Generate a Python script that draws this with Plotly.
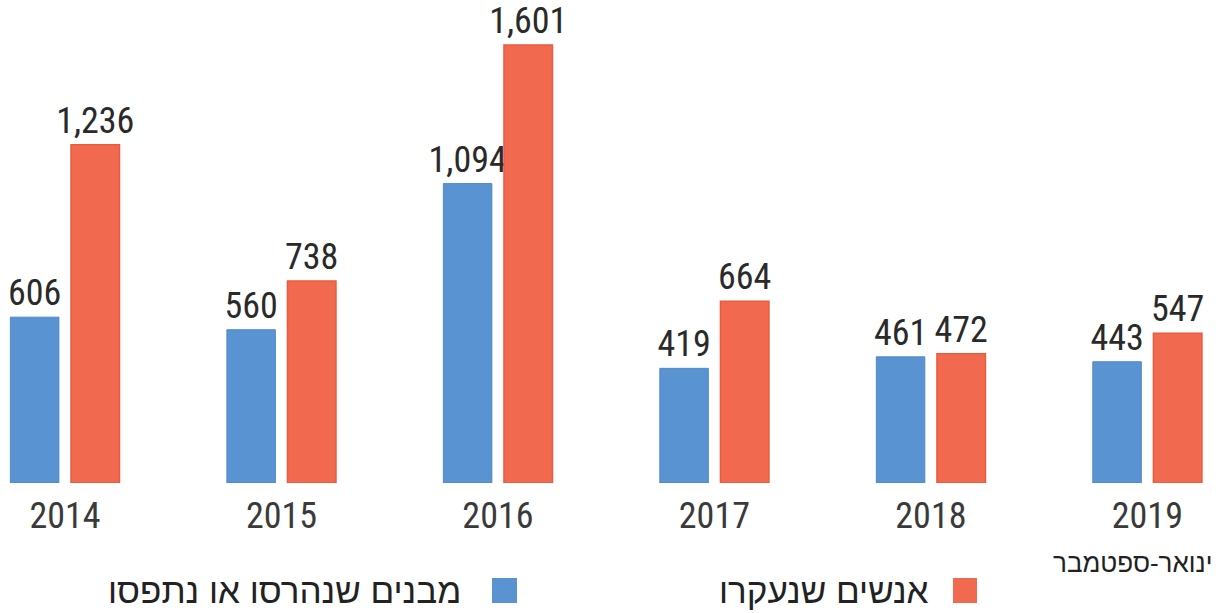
import plotly.graph_objects as go

years = ["2014", "2015", "2016", "2017", "2018", "2019"]
buildings = [606, 560, 1094, 419, 461, 443]
displaced = [1236, 738, 1601, 664, 472, 547]

name_buildings = "מבנים שנהרסו או נתפסו"
name_displaced = "אנשים שנעקרו"
note_2019 = "ינואר-ספטמבר"

BLUE = "#5A93D2"
RED = "#F16A4F"
FONT = "Liberation Sans Narrow, Roboto Condensed, Arial Narrow, Roboto, sans-serif"
HEB_FONT = "Liberation Sans Narrow, Liberation Sans, DejaVu Sans"

fig = go.Figure()
fig.add_trace(go.Bar(
    x=years, y=buildings, name=name_buildings,
    marker=dict(color=BLUE, line=dict(color="#4F88CC", width=1)),
    text=[f"{v:,}" for v in buildings], textposition="outside",
    constraintext="none", cliponaxis=False,
    textfont=dict(family=FONT, size=36, color="#2a2a2a"),
))
fig.add_trace(go.Bar(
    x=years, y=displaced, name=name_displaced,
    marker=dict(color=RED, line=dict(color="#EC5A3D", width=1.5)),
    text=[f"{v:,}" for v in displaced], textposition="outside",
    constraintext="none", cliponaxis=False,
    textfont=dict(family=FONT, size=36, color="#2a2a2a"),
))

fig.update_layout(
    width=1224, height=613,
    margin=dict(l=0, r=0, t=0, b=130),
    paper_bgcolor="white", plot_bgcolor="white",
    barmode="group", bargap=0.44, bargroupgap=0.2,
    showlegend=False,
    xaxis=dict(type="category", range=[-0.30, 5.354], showgrid=False,
               showline=False, zeroline=False, ticks="",
               tickfont=dict(family=FONT, size=36, color="#3a3a3a"),
               ticklabelstandoff=8),
    yaxis=dict(range=[0, 1765], visible=False),
    font=dict(family=FONT),
)

# legend (RTL style: square on the right of the text)
legend_font = dict(family=HEB_FONT, size=35, color="#222222")
fig.add_shape(type="rect", xref="paper", yref="paper",
              x0=492/1224, x1=517/1224, y0=(483-603)/483, y1=(483-578)/483,
              fillcolor=BLUE, line=dict(width=0))
fig.add_shape(type="rect", xref="paper", yref="paper",
              x0=953/1224, x1=977/1224, y0=(483-603)/483, y1=(483-578)/483,
              fillcolor=RED, line=dict(width=0))
fig.add_annotation(text=name_buildings, xref="paper", yref="paper",
                   x=463/1224, y=(483-590)/483, xanchor="right", yanchor="middle",
                   showarrow=False, font=legend_font)
fig.add_annotation(text=name_displaced, xref="paper", yref="paper",
                   x=931/1224, y=(483-590)/483, xanchor="right", yanchor="middle",
                   showarrow=False, font=legend_font)
fig.add_annotation(text=note_2019, xref="paper", yref="paper",
                   x=1132/1224, y=(483-563)/483, xanchor="center", yanchor="middle",
                   showarrow=False, font=dict(family=HEB_FONT, size=26, color="#222222"))

fig.write_html("out.html", config={"displayModeBar": False},
               post_script="document.body.style.margin='0';document.body.style.overflow='hidden';")
